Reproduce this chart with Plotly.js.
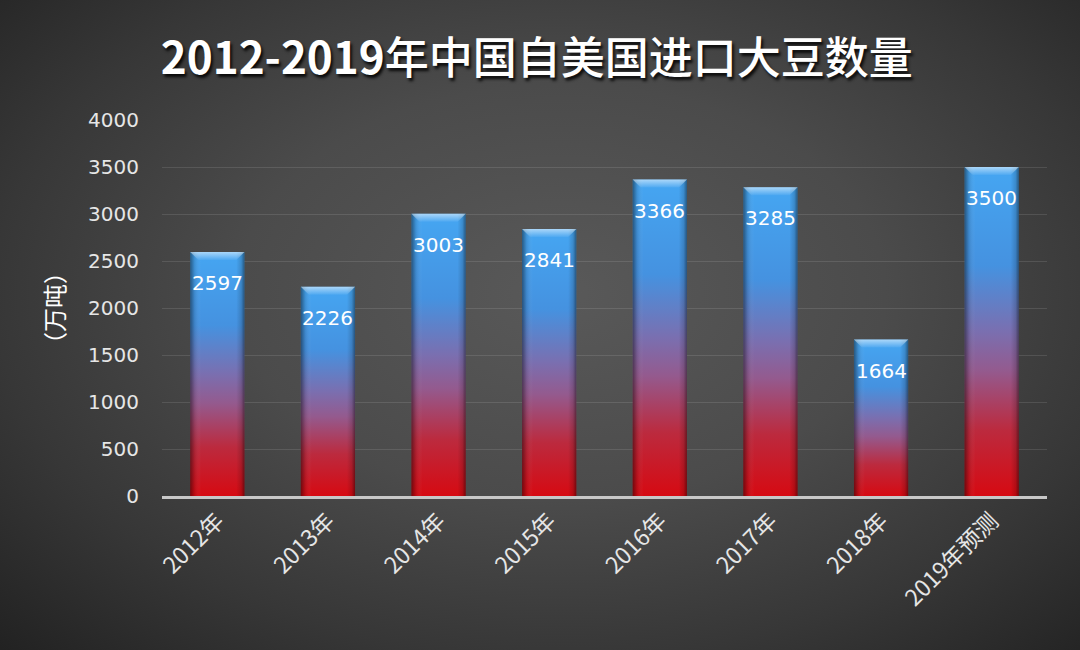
<!DOCTYPE html>
<html>
<head>
<meta charset="utf-8">
<script src="https://cdn.plot.ly/plotly-3.0.1.min.js"></script>
<style>
  html, body { margin:0; padding:0; }
  body { width:1080px; height:650px; overflow:hidden;
    background: radial-gradient(ellipse 75% 80% at 52% 45%, #595959 0%, #4b4b4b 40%, #373737 70%, #202020 100%); }
  #chart { width:1080px; height:650px; }
</style>
</head>
<body>
<div id="chart"></div>
<script>
const categories = ["2012年","2013年","2014年","2015年","2016年","2017年","2018年","2019年预测"];
const values = [2597, 2226, 3003, 2841, 3366, 3285, 1664, 3500];
const yTicks = [0, 500, 1000, 1500, 2000, 2500, 3000, 3500, 4000];

const FONT = "'DejaVu Sans', 'Noto Sans CJK SC', sans-serif";
const CJK = "'Noto Sans CJK SC', 'DejaVu Sans', sans-serif";

const trace = {
  type: 'bar',
  x: categories,
  y: values,
  marker: { color: '#3f8fe0', line: { width: 0 } },
  hoverinfo: 'none'
};

const annotations = categories.map((c, i) => ({
  x: c, y: values[i], xref: 'x', yref: 'y',
  text: String(values[i]), showarrow: false,
  yanchor: 'top', yshift: -17,
  font: { family: FONT, size: 20, color: '#ffffff' }
}));

const layout = {
  width: 1080, height: 650,
  paper_bgcolor: 'rgba(0,0,0,0)',
  plot_bgcolor: 'rgba(0,0,0,0)',
  margin: { l: 162, r: 33, t: 120, b: 154 },
  bargap: 0.51,
  showlegend: false,
  title: {
    text: '<b>2012-2019</b>年中国自美国进口大豆数量',
    x: 0.497, xanchor: 'center', y: 0.91, yanchor: 'middle',
    font: { family: CJK, size: 44, color: '#ffffff', weight: 500, shadow: '2px 3px 3px rgba(0,0,0,0.85)' }
  },
  xaxis: {
    type: 'category',
    tickangle: -45,
    tickfont: { family: CJK, size: 23, color: '#e6e6e6' },
    showline: true, linecolor: '#c8c8c8', linewidth: 2.5,
    showgrid: false, ticks: '', fixedrange: true
  },
  yaxis: {
    range: [0, 4000],
    tickvals: yTicks,
    ticktext: yTicks.map(String),
    tickfont: { family: FONT, size: 20, color: '#e6e6e6' },
    showgrid: true, gridcolor: 'rgba(255,255,255,0.11)', gridwidth: 1,
    zeroline: false, showline: false, ticks: '',
    ticklabelstandoff: 22,
    title: { text: '（万吨）', standoff: 16, font: { family: CJK, size: 24, color: '#ffffff' } },
    fixedrange: true
  },
  annotations: annotations
};

Plotly.newPlot('chart', [trace], layout, { staticPlot: true, displayModeBar: false }).then(gd => {
  const svgNS = 'http://www.w3.org/2000/svg';
  const mainSvg = gd.querySelector('svg.main-svg');
  let defs = mainSvg.querySelector('defs');
  if (!defs) { defs = document.createElementNS(svgNS, 'defs'); mainSvg.insertBefore(defs, mainSvg.firstChild); }
  function grad(id, horizontal, stops) {
    const g = document.createElementNS(svgNS, 'linearGradient');
    g.setAttribute('id', id);
    g.setAttribute('x1', '0'); g.setAttribute('y1', '0');
    g.setAttribute('x2', horizontal ? '1' : '0'); g.setAttribute('y2', horizontal ? '0' : '1');
    stops.forEach(s => {
      const st = document.createElementNS(svgNS, 'stop');
      st.setAttribute('offset', s[0]);
      st.setAttribute('stop-color', s[1]);
      st.setAttribute('stop-opacity', s[2] === undefined ? 1 : s[2]);
      g.appendChild(st);
    });
    defs.appendChild(g);
  }
  grad('barV', false, [['0', '#45a6f2'], ['0.3', '#4592e0'], ['0.5', '#7a6fb0'], ['0.62', '#945a8e'], ['0.8', '#bc2a3e'], ['1', '#d60a12']]);
  grad('barH', true, [['0', '#000', 0.45], ['0.08', '#000', 0.12], ['0.2', '#fff', 0.0], ['0.85', '#000', 0.0], ['0.94', '#000', 0.15], ['1', '#000', 0.45]]);
  grad('barTop', false, [['0', '#ffffff', 0.55], ['1', '#ffffff', 0.05]]);

  gd.querySelectorAll('.bars .point').forEach(pt => {
    const path = pt.querySelector('path');
    if (!path) return;
    const b = path.getBBox();
    path.style.fill = 'url(#barV)';
    const ov = document.createElementNS(svgNS, 'rect');
    ov.setAttribute('x', b.x); ov.setAttribute('y', b.y);
    ov.setAttribute('width', b.width); ov.setAttribute('height', b.height);
    ov.setAttribute('fill', 'url(#barH)');
    pt.appendChild(ov);
    const cap = document.createElementNS(svgNS, 'path');
    const h = 8, inset = 8;
    cap.setAttribute('d', `M${b.x},${b.y} L${b.x + b.width},${b.y} L${b.x + b.width - inset},${b.y + h} L${b.x + inset},${b.y + h} Z`);
    cap.setAttribute('fill', 'url(#barTop)');
    pt.appendChild(cap);
  });
});
</script>
</body>
</html>
